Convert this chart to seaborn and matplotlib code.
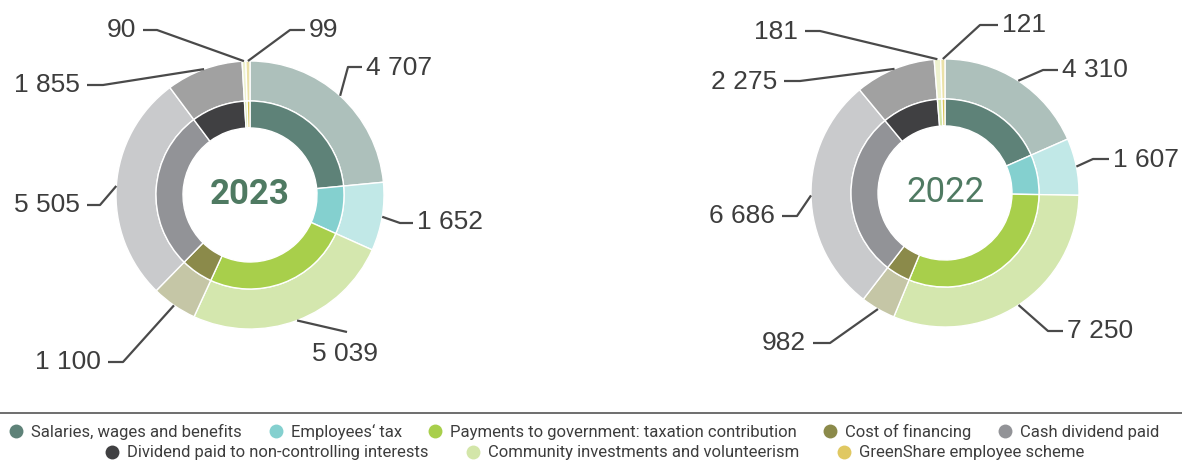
import numpy as np
import matplotlib
matplotlib.use("Agg")
import matplotlib.pyplot as plt
from matplotlib.lines import Line2D
import seaborn as sns

# ---------------- data ----------------
categories = [
    "Salaries, wages and benefits",
    "Employees\u2018 tax",
    "Payments to government: taxation contribution",
    "Cost of financing",
    "Cash dividend paid",
    "Dividend paid to non-controlling interests",
    "Community investments and volunteerism",
    "GreenShare employee scheme",
]
values_2023 = [4707, 1652, 5039, 1100, 5505, 1855, 90, 99]
values_2022 = [4310, 1607, 7250, 982, 6686, 2275, 181, 121]
years = ["2023", "2022"]

# ---------------- style ----------------
sns.set_theme(style="white")
plt.rcParams["font.family"] = ["Liberation Sans", "DejaVu Sans"]

inner_colors = sns.color_palette(["#5e8278", "#84d0cf", "#a8cf4b", "#8b8a4a",
                                  "#929397", "#404042", "#d3e6a9", "#d9c55a"])
outer_colors = sns.color_palette(["#adc0bb", "#c1e8e7", "#d4e7ae", "#c5c6a6",
                                  "#c9cacc", "#a1a1a1", "#eef2cf", "#ebe1a8"])
legend_colors = ["#5e8278", "#84d0cf", "#a8cf4b", "#8b8a4a",
                 "#929397", "#404042", "#d3e6a9", "#e0c862"]

W, H = 1182, 462
fig = plt.figure(figsize=(W / 100, H / 100), dpi=100)
ax = fig.add_axes([0, 0, 1, 1])

def Y(yp):
    return H - yp

# layout (pixel coords, y downward): centre, radii
centres = [(250, 195), (945, 193)]
R_OUT, R_MID, R_IN = 134, 94, 67

# label layout: (elbow, end, text anchor, ha)
label_layout = {
    "2023": [
        ((348, 67), (362, 67), (366, 68), "left"),
        ((400, 223), (413, 223), (417, 222), "left"),
        ((347, 332), (347, 332), (345, 354), "center"),
        ((123, 362), (108, 362), (101, 362), "right"),
        ((100, 205), (87, 205), (80, 205), "right"),
        ((103, 85), (87, 85), (80, 85), "right"),
        ((157, 30), (143, 30), (136, 30), "right"),
        ((290, 30), (305, 30), (309, 30), "left"),
    ],
    "2022": [
        ((1043, 70), (1058, 70), (1062, 70), "left"),
        ((1093, 159), (1109, 159), (1113, 160), "left"),
        ((1048, 331), (1063, 331), (1067, 331), "left"),
        ((830, 343), (813, 343), (806, 343), "right"),
        ((797, 216), (782, 216), (775, 216), "right"),
        ((800, 81), (784, 81), (777, 82), "right"),
        ((820, 31), (805, 31), (798, 32), "right"),
        ((980, 25), (998, 25), (1002, 25), "left"),
    ],
}

def fmt(v):
    return f"{v:,}".replace(",", " ")

line_col = "#4a4a4a"
text_col = "#3d3d3d"

for (cx, cy), year, vals in zip(centres, years, [values_2023, values_2022]):
    c = (cx, Y(cy))
    ax.pie(vals, radius=R_OUT, center=c, startangle=90, counterclock=False,
           colors=outer_colors, frame=True,
           wedgeprops=dict(width=R_OUT - R_MID, edgecolor="white", linewidth=1))
    ax.pie(vals, radius=R_MID, center=c, startangle=90, counterclock=False,
           colors=inner_colors, frame=True,
           wedgeprops=dict(width=R_MID - R_IN, edgecolor="white", linewidth=1))
    # centre text
    if year == "2023":
        ax.text(cx, Y(cy - 1), year, ha="center", va="center", fontsize=25,
                fontweight="bold", color="#4f7a62", family=["Roboto", "DejaVu Sans"])
    else:
        ax.text(cx, Y(cy - 1), year, ha="center", va="center", fontsize=25,
                color="#4f7a62", family=["Roboto", "DejaVu Sans"])
    # labels
    total = float(sum(vals))
    cum = np.cumsum([0] + list(vals))
    for i, v in enumerate(vals):
        mid = (cum[i] + v / 2) / total * 2 * np.pi
        ax_x = cx + R_OUT * np.sin(mid)
        ax_y = cy - R_OUT * np.cos(mid)
        elbow, end, tpos, ha = label_layout[year][i]
        ax.plot([ax_x, elbow[0], end[0]], [Y(ax_y), Y(elbow[1]), Y(end[1])],
                color=line_col, lw=1.6, solid_capstyle="butt")
        ax.text(tpos[0], Y(tpos[1]), fmt(v), ha=ha, va="center",
                fontsize=19, color=text_col)

ax.set_xlim(0, W)
ax.set_ylim(0, H)
ax.set_aspect("equal")
ax.axis("off")

# separator line above legend
fig.add_artist(Line2D([0, 1], [1 - 413 / H, 1 - 413 / H], color="#555555", lw=1.2))

def handles(idx):
    return [Line2D([], [], marker="o", linestyle="none", markersize=10,
                   markerfacecolor=legend_colors[i], markeredgecolor="none",
                   label=categories[i]) for i in idx]

leg_kw = dict(frameon=False, handlelength=0.9, handletextpad=0.45,
              borderaxespad=0, labelcolor="#3d3d3d",
              prop={"family": ["Roboto", "DejaVu Sans"], "size": 12})
l1 = fig.legend(handles=handles(range(5)), ncol=5, loc="center",
                columnspacing=1.55,
                bbox_to_anchor=(0.494, 1 - 432 / H), **leg_kw)
l2 = fig.legend(handles=handles(range(5, 8)), ncol=3, loc="center",
                columnspacing=2.25,
                bbox_to_anchor=(0.503, 1 - 453 / H), **leg_kw)

fig.savefig("out.png", dpi=100)
